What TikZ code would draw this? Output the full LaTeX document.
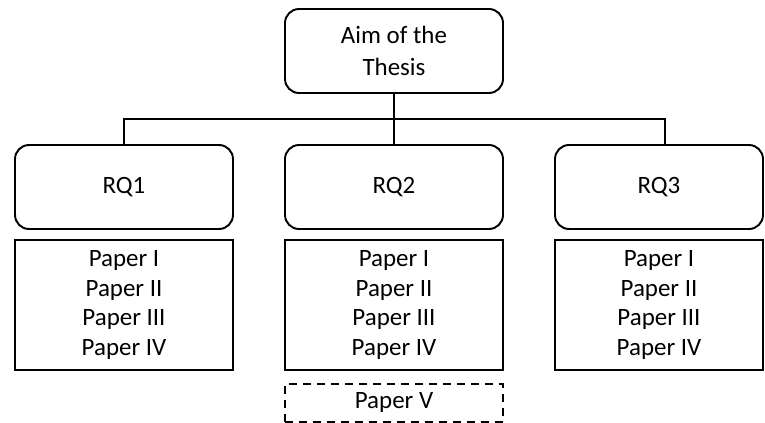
\documentclass[tikz,border=0pt]{standalone}
\usepackage{fontspec}
\setmainfont{Carlito}
\usetikzlibrary{positioning}

\begin{document}
\begin{tikzpicture}[x=0.02cm, y=-0.02cm,
    boxtext/.style={align=center, font=\fontsize{14.2}{17}\selectfont},
    rqbox/.style={boxtext, draw, line width=1.1pt, rounded corners=0.28cm,
        minimum width=4.36cm, minimum height=1.68cm},
    paperbox/.style={boxtext, draw, line width=1.1pt, inner sep=0pt,
        minimum width=4.36cm, minimum height=2.6cm},
    link/.style={line width=0.6pt}]

    % Cornice
    \useasboundingbox (0,0) rectangle (765,423);

    % Obiettivo della tesi
    \node[rqbox, font=\fontsize{14.2}{18.5}\selectfont] (aim) at (394,51) {Aim of the\\Thesis};

    % Domande di ricerca
    \node[rqbox] (rq1) at (124,187) {RQ1};
    \node[rqbox] (rq2) at (394,187) {RQ2};
    \node[rqbox, minimum width=4.16cm] (rq3) at (659,187) {RQ3};

    % Articoli
    \node[paperbox] (pap1) at (124,305) {Paper I\\Paper II\\Paper III\\Paper IV};
    \node[paperbox] (pap2) at (394,305) {Paper I\\Paper II\\Paper III\\Paper IV};
    \node[paperbox, minimum width=4.16cm] (pap3) at (659,305) {Paper I\\Paper II\\Paper III\\Paper IV};
    \node[paperbox, minimum height=0.76cm, line width=0.9pt,
        dash pattern=on 0.16cm off 0.12cm] (pap5) at (394,403) {Paper V};

    % Collegamenti
    \coordinate (bus) at (394,119);
    \draw[link] (aim.south) -- (rq2.north);
    \draw[link] (rq1.north) |- (bus) -| ([xshift=0.12cm]rq3.north);
\end{tikzpicture}
\end{document}
